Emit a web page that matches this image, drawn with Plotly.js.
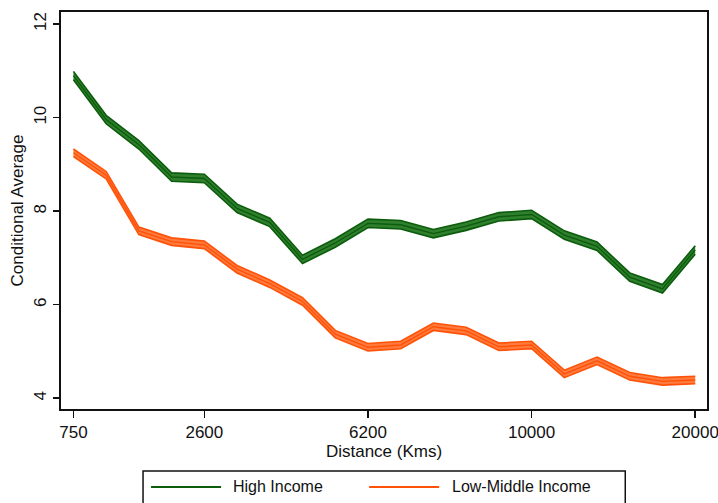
<!DOCTYPE html>
<html>
<head>
<meta charset="utf-8">
<script src="https://cdn.plot.ly/plotly-3.0.1.min.js"></script>
<style>html,body{margin:0;padding:0;background:#fff;}#chart{width:718px;height:503px;}</style>
</head>
<body>
<div id="chart"></div>
<script>
// Distance bins (index positions along the axis)
const binIndex = [0,1,2,3,4,5,6,7,8,9,10,11,12,13,14,15,16,17,18,19];
const tickBins = [0,4,9,14,19];
const tickLabels = ["750","2600","6200","10000","20000"];

// Conditional averages
const highIncome = [10.90,9.96,9.42,8.73,8.70,8.06,7.76,6.97,7.32,7.74,7.71,7.52,7.68,7.88,7.93,7.49,7.25,6.59,6.34,7.17];
const highIncomeCI = [0.09,0.09,0.09,0.09,0.09,0.09,0.09,0.09,0.09,0.09,0.09,0.09,0.09,0.09,0.09,0.09,0.09,0.09,0.09,0.09];
const lowMidIncome = [9.25,8.77,7.58,7.35,7.28,6.76,6.45,6.07,5.37,5.09,5.14,5.53,5.44,5.10,5.14,4.52,4.80,4.47,4.36,4.39];
const lowMidIncomeCI = [0.08,0.08,0.08,0.08,0.08,0.08,0.08,0.08,0.08,0.08,0.08,0.08,0.08,0.08,0.08,0.08,0.08,0.08,0.08,0.08];

const seriesNames = ["High Income","Low-Middle Income"];

function band(center, ci, edge, fill, name) {
  const up = center.map((v,i)=>v+ci[i]);
  const lo = center.map((v,i)=>v-ci[i]);
  return [
    {x: binIndex, y: lo, mode:'lines', line:{color:edge,width:1.6}, hoverinfo:'skip', showlegend:false},
    {x: binIndex, y: up, mode:'lines', line:{color:edge,width:1.6}, fill:'tonexty', fillcolor:fill, hoverinfo:'skip', showlegend:false},
    {x: binIndex, y: center, mode:'lines', line:{color:edge,width:1.4}, name:name, showlegend:false}
  ];
}

const greenEdge = '#0b5c0b', greenFill = '#2f7f2f';
const orangeEdge = '#ff5208', orangeFill = '#ff7a3c';

const data = [].concat(
  band(highIncome, highIncomeCI, greenEdge, greenFill, seriesNames[0]),
  band(lowMidIncome, lowMidIncomeCI, orangeEdge, orangeFill, seriesNames[1])
);

// plot-area pixel geometry
const L = 61, R = 706.7, T = 11.7, B = 409;
const W = 718, H = 503;
const px = v => (v - L) / (R - L);
const py = v => (B - v) / (B - T);

const shapes = [
  {type:'rect', xref:'paper', yref:'paper', x0:px(143), x1:px(625), y0:py(471), y1:py(512), line:{color:'#111', width:1.5}, fillcolor:'rgba(0,0,0,0)'},
  {type:'line', xref:'paper', yref:'paper', x0:px(151), x1:px(221), y0:py(487), y1:py(487), line:{color:greenEdge, width:2}},
  {type:'line', xref:'paper', yref:'paper', x0:px(369), x1:px(439), y0:py(487), y1:py(487), line:{color:orangeEdge, width:2}}
];
const annotations = [
  {xref:'paper', yref:'paper', x:px(231), y:py(487), text:seriesNames[0], showarrow:false, xanchor:'left', yanchor:'middle', font:{size:16, color:'#111'}},
  {xref:'paper', yref:'paper', x:px(450), y:py(487), text:seriesNames[1], showarrow:false, xanchor:'left', yanchor:'middle', font:{size:16, color:'#111'}}
];

const layout = {
  width: W, height: H,
  margin: {l: L, r: W - R, t: T, b: H - B, pad: 0},
  paper_bgcolor: '#fff', plot_bgcolor: '#fff',
  font: {family: '"Liberation Sans", Arial, Helvetica, sans-serif', size: 17, color: '#111'},
  showlegend: false,
  xaxis: {
    range: [-0.38, 19.36],
    tickvals: tickBins, ticktext: tickLabels,
    ticks: 'outside', ticklen: 7, tickwidth: 1.5, tickcolor: '#111',
    ticklabeloverflow: 'allow',
    showgrid: false, zeroline: false,
    showline: true, linecolor: '#111', linewidth: 1.8, mirror: true,
    tickfont: {size: 17},
    title: {text: 'Distance (Kms)', font: {size: 17}, standoff: 3}
  },
  yaxis: {
    range: [3.77, 12.26],
    tickvals: [4,6,8,10,12],
    tickangle: -90,
    ticks: 'outside', ticklen: 6, tickwidth: 1.5, tickcolor: '#111',
    showgrid: false, zeroline: false,
    showline: true, linecolor: '#111', linewidth: 1.8, mirror: true,
    tickfont: {size: 17},
    title: {text: 'Conditional Average', font: {size: 17}, standoff: 3}
  },
  shapes: shapes,
  annotations: annotations
};

Plotly.newPlot('chart', data, layout, {staticPlot: true, displayModeBar: false});
</script>
</body>
</html>
